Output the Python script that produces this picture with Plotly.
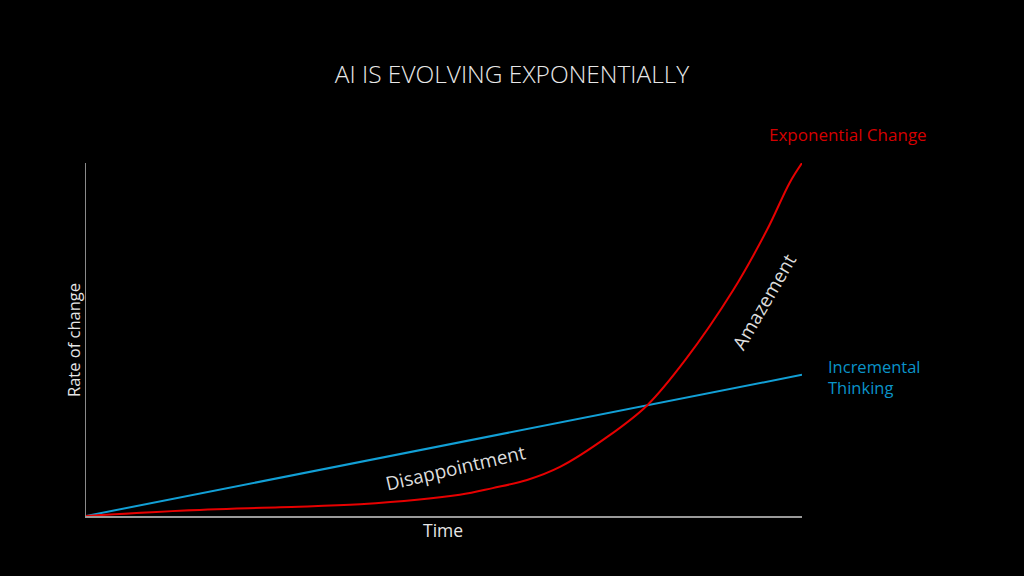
import plotly.graph_objects as go

# Data, x = time 0..10, y = rate of change 0..10
time_exp = [0, 1.31, 2.71, 3.83, 5.22, 5.68, 6.16, 6.62, 7.28, 7.84, 8.37, 9.04, 9.51, 9.83, 10.0]
rate_exp = [0, 0.15, 0.25, 0.33, 0.60, 0.79, 1.02, 1.39, 2.24, 3.14, 4.42, 6.40, 8.10, 9.45, 10.0]
time_lin = [0, 10]
rate_lin = [0, 4.0]

title_text = "AI IS EVOLVING EXPONENTIALLY"
x_label = "Time"
y_label = "Rate of change"

RED_LINE = "#e60000"
BLUE_LINE = "#12a0d6"
RED_TXT = "#d40000"
BLUE_TXT = "#0a93c8"
FONT = "'Open Sans', Lato, sans-serif"

# plot area in pixels
L, R, T, B = 86, 802, 163, 516
PW, PH = R - L, B - T


def px(xp):
    return (xp - L) / PW


def py(yp):
    return (B - yp) / PH


fig = go.Figure()
fig.add_trace(go.Scatter(x=time_lin, y=rate_lin, mode="lines",
                         line=dict(color=BLUE_LINE, width=2), hoverinfo="skip"))
fig.add_trace(go.Scatter(x=time_exp, y=rate_exp, mode="lines",
                         line=dict(color=RED_LINE, width=2, shape="spline", smoothing=1.0),
                         hoverinfo="skip"))

fig.update_layout(
    width=1024, height=576,
    paper_bgcolor="black", plot_bgcolor="black",
    margin=dict(l=L, r=1024 - R, t=T, b=576 - B),
    showlegend=False,
    font=dict(family=FONT, color="#e6e6e6"),
    title=dict(text=title_text, x=0.5, xref="container", xanchor="center",
               y=1 - 74 / 576, yref="container", yanchor="middle",
               font=dict(size=24.5, color="#e8e8e8", family=FONT, weight=300)),
    xaxis=dict(range=[0, 10], showgrid=False, zeroline=False, showticklabels=False,
               showline=True, linecolor="#9a9a9a", linewidth=2, ticks=""),
    yaxis=dict(range=[0, 10], showgrid=False, zeroline=False, showticklabels=False,
               showline=True, linecolor="#8a8a8a", linewidth=1, ticks=""),
)

annotations = [
    dict(text=x_label, x=px(443), y=py(530), xref="paper", yref="paper",
         xanchor="center", yanchor="middle", showarrow=False,
         font=dict(size=17.5, color="#e6e6e6")),
    dict(text=y_label, x=px(73), y=py(340), xref="paper", yref="paper",
         xanchor="center", yanchor="middle", showarrow=False, textangle=-90,
         font=dict(size=16.5, color="#e6e6e6")),
    dict(text="Exponential Change", x=px(848), y=py(135), xref="paper", yref="paper",
         xanchor="center", yanchor="middle", showarrow=False,
         font=dict(size=17, color=RED_TXT)),
    dict(text="Incremental<br>Thinking", x=px(826), y=py(377), xref="paper", yref="paper",
         xanchor="left", yanchor="middle", align="left", showarrow=False,
         font=dict(size=16.5, color=BLUE_TXT)),
    dict(text="Disappointment", x=px(455), y=py(468), xref="paper", yref="paper",
         xanchor="center", yanchor="middle", showarrow=False, textangle=-13,
         font=dict(size=19, color="#dcdcdc")),
    dict(text="Amazement", x=px(764), y=py(302), xref="paper", yref="paper",
         xanchor="center", yanchor="middle", showarrow=False, textangle=-60,
         font=dict(size=19, color="#dcdcdc")),
]
fig.update_layout(annotations=annotations)

fig.write_html("out.html")
